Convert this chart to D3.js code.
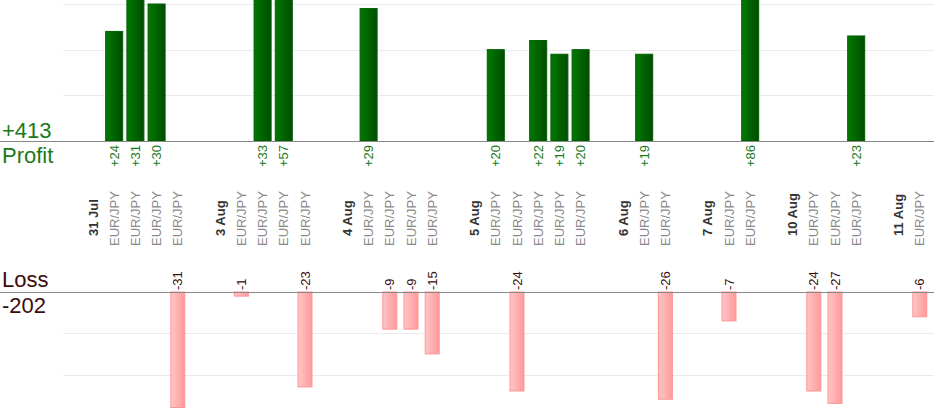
<!DOCTYPE html>
<html>
<head>
<meta charset="utf-8">
<script src="https://cdn.jsdelivr.net/npm/d3@7"></script>
<style>
  body { margin: 0; background: #fff; }
  svg { display: block; font-family: "Liberation Sans", Arial, sans-serif; }
</style>
</head>
<body>
<svg id="chart" width="934" height="420"></svg>
<script>
// one slot per category; "" marks an empty spacer slot
const slotLabels = [
  "31 Jul", "EUR/JPY", "EUR/JPY", "EUR/JPY", "EUR/JPY", "",
  "3 Aug", "EUR/JPY", "EUR/JPY", "EUR/JPY", "EUR/JPY", "",
  "4 Aug", "EUR/JPY", "EUR/JPY", "EUR/JPY", "EUR/JPY", "",
  "5 Aug", "EUR/JPY", "EUR/JPY", "EUR/JPY", "EUR/JPY", "EUR/JPY", "",
  "6 Aug", "EUR/JPY", "EUR/JPY", "",
  "7 Aug", "EUR/JPY", "EUR/JPY", "",
  "10 Aug", "EUR/JPY", "EUR/JPY", "EUR/JPY", "",
  "11 Aug", "EUR/JPY"
];

// result of each trade, aligned with slotLabels (null = date or spacer)
const pnl = [
  null, 24, 31, 30, -31, null,
  null, -1, 33, 57, -23, null,
  null, 29, -9, -9, -15, null,
  null, 20, -24, 22, 19, 20, null,
  null, 19, -26, null,
  null, -7, 86, null,
  null, -24, -27, 23, null,
  null, -6
];

const profitTicks = [10, 20, 30];
const lossTicks = [10, 20];

const totalProfit = d3.sum(pnl, (d) => (d > 0 ? d : 0));
const totalLoss = d3.sum(pnl, (d) => (d < 0 ? d : 0));

const width = 934;
const profitBase = 141;
const lossBase = 292;
const gridLeft = 63;

const svg = d3.select("#chart");

// gradients for the bars
const defs = svg.append("defs");
const gGreen = defs.append("linearGradient").attr("id", "gradProfit");
gGreen.append("stop").attr("offset", "0%").attr("stop-color", "#007a00");
gGreen.append("stop").attr("offset", "100%").attr("stop-color", "#004c00");
const gPink = defs.append("linearGradient").attr("id", "gradLoss");
gPink.append("stop").attr("offset", "0%").attr("stop-color", "#ffc6c6");
gPink.append("stop").attr("offset", "100%").attr("stop-color", "#ff9a9a");

// X scale over all slots
const x = d3
  .scaleBand()
  .domain(d3.range(slotLabels.length))
  .range([82.4, 930.4])
  .paddingInner(0.15)
  .paddingOuter(0.075);

const cx = (i) => x(i) + x.bandwidth() / 2;

// Y scales
const yProfit = d3.scaleLinear().domain([0, 30]).range([profitBase, 4]);
const yLoss = d3
  .scaleLinear()
  .domain([0, 28])
  .range([lossBase, lossBase + 28 * 4.125])
  .clamp(true);

// grid lines
svg
  .append("g")
  .selectAll("line")
  .data(profitTicks)
  .enter()
  .append("line")
  .attr("x1", gridLeft)
  .attr("x2", width)
  .attr("y1", (d) => Math.round(yProfit(d)) + 0.5)
  .attr("y2", (d) => Math.round(yProfit(d)) + 0.5)
  .attr("stroke", "#ebebeb");

svg
  .append("g")
  .selectAll("line")
  .data(lossTicks)
  .enter()
  .append("line")
  .attr("x1", gridLeft)
  .attr("x2", width)
  .attr("y1", (d) => Math.round(yLoss(d)) + 0.5)
  .attr("y2", (d) => Math.round(yLoss(d)) + 0.5)
  .attr("stroke", "#ebebeb");

const slots = slotLabels.map((label, i) => ({ i, label, v: pnl[i] }));
const wins = slots.filter((d) => d.v != null && d.v > 0);
const losses = slots.filter((d) => d.v != null && d.v < 0);

// profit bars
svg
  .selectAll(".bar-profit")
  .data(wins)
  .enter()
  .append("rect")
  .attr("class", "bar-profit")
  .attr("x", (d) => x(d.i) + 0.5)
  .attr("y", (d) => yProfit(d.v))
  .attr("width", x.bandwidth() - 1)
  .attr("height", (d) => profitBase - yProfit(d.v))
  .attr("fill", "url(#gradProfit)")
  .attr("stroke", "#005f00")
  .attr("stroke-width", 1);

// loss bars (a bit narrower)
const lossW = x.bandwidth() * 0.83;
svg
  .selectAll(".bar-loss")
  .data(losses)
  .enter()
  .append("rect")
  .attr("class", "bar-loss")
  .attr("x", (d) => cx(d.i) - lossW / 2 + 0.5)
  .attr("y", lossBase)
  .attr("width", lossW - 1)
  .attr("height", (d) => yLoss(-d.v) - lossBase)
  .attr("fill", "url(#gradLoss)")
  .attr("stroke", "#ff9494")
  .attr("stroke-width", 1);

// base lines
[profitBase, lossBase].forEach((y) => {
  svg
    .append("line")
    .attr("x1", 0)
    .attr("x2", width)
    .attr("y1", y + 0.5)
    .attr("y2", y + 0.5)
    .attr("stroke", "#888")
    .attr("stroke-width", 1.2);
});

// value labels
svg
  .selectAll(".lbl-profit")
  .data(wins)
  .enter()
  .append("text")
  .attr("class", "lbl-profit")
  .attr("transform", (d) => `translate(${cx(d.i)},${profitBase + 4}) rotate(-90)`)
  .attr("text-anchor", "end")
  .attr("dy", "0.35em")
  .style("font-size", "13px")
  .style("fill", "#1a7a1a")
  .text((d) => "+" + d.v);

svg
  .selectAll(".lbl-loss")
  .data(losses)
  .enter()
  .append("text")
  .attr("class", "lbl-loss")
  .attr("transform", (d) => `translate(${cx(d.i)},${lossBase - 2}) rotate(-90)`)
  .attr("text-anchor", "start")
  .attr("dy", "0.35em")
  .style("font-size", "13px")
  .style("fill", "#3c0c0c")
  .text((d) => d.v);

// category labels
svg
  .selectAll(".cat")
  .data(slots.filter((d) => d.label !== ""))
  .enter()
  .append("text")
  .attr("class", "cat")
  .attr("transform", (d) =>
    `translate(${cx(d.i)},${d.v == null ? 236 : 246}) rotate(-90)`
  )
  .attr("text-anchor", "start")
  .attr("dy", "0.35em")
  .style("font-size", "13px")
  .style("font-weight", (d) => (d.v == null ? "bold" : "normal"))
  .style("fill", (d) => (d.v == null ? "#333" : "#8a8a8a"))
  .text((d) => d.label);

// totals on the left
const side = [
  { t: "+" + totalProfit, y: 138, c: "#1a7a1a" },
  { t: "Profit", y: 163, c: "#1a7a1a" },
  { t: "Loss", y: 287, c: "#3c0c0c" },
  { t: String(totalLoss), y: 313, c: "#3c0c0c" }
];
svg
  .selectAll(".side")
  .data(side)
  .enter()
  .append("text")
  .attr("class", "side")
  .attr("x", 2)
  .attr("y", (d) => d.y)
  .style("font-size", "22px")
  .style("fill", (d) => d.c)
  .text((d) => d.t);
</script>
</body>
</html>
